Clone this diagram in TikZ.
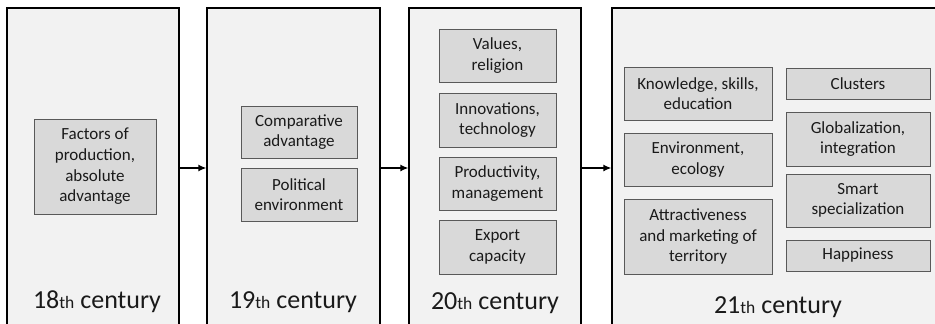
\documentclass[tikz,border=0pt]{standalone}
\usepackage{fontspec}
\setmainfont{Carlito}
\usetikzlibrary{arrows.meta}
\definecolor{panelgray}{HTML}{F2F2F2}
\definecolor{boxgray}{HTML}{D9D9D9}
\definecolor{boxedge}{HTML}{595959}
\definecolor{inkgray}{HTML}{1A1A1A}
\newcommand{\smallth}{{\fontsize{17.5}{17.5}\selectfont th}}
\begin{document}
\begin{tikzpicture}[x=1pt,y=-1pt,
  panel/.style={draw=black, line width=1.3pt, fill=panelgray, minimum height=320pt, inner sep=0pt},
  item/.style={draw=boxedge, line width=0.8pt, fill=boxgray, align=center, inner sep=0pt, text=inkgray, font=\fontsize{17}{20.6}\selectfont},
  era/.style={text=inkgray, font=\fontsize{26}{30}\selectfont},
  link/.style={-{Latex[length=8pt,width=7pt]}, line width=1.3pt}]
\clip (0,0) rectangle (935,324);

% panels
\node[panel, minimum width=172pt] (p18) at (93,168) {};
\node[panel, minimum width=173pt] (p19) at (293.5,168) {};
\node[panel, minimum width=172pt] (p20) at (495,168) {};
\node[panel, minimum width=340pt] (p21) at (782,168) {};

% 18th century
\node[item, minimum width=122pt, minimum height=95pt] (fac) at (95,166.5) {Factors of\\production,\\absolute\\advantage};

% 19th century
\node[item, minimum width=116pt, minimum height=52pt] (comp) at (299,132) {Comparative\\advantage};
\node[item, minimum width=116pt, minimum height=53pt] (pol) at (299,194.5) {Political\\environment};

% 20th century
\node[item, minimum width=117pt, minimum height=53pt] (val) at (497.5,55.5) {Values,\\religion};
\node[item, minimum width=117pt, minimum height=54pt] (inn) at (497.5,120) {Innovations,\\technology};
\node[item, minimum width=117pt, minimum height=53pt] (prod) at (497.5,183.5) {Productivity,\\management};
\node[item, minimum width=117pt, minimum height=54pt] (exp) at (497.5,247) {Export\\capacity};

% 21th century, left column
\node[item, minimum width=148pt, minimum height=53pt] (know) at (698,93.5) {Knowledge, skills,\\education};
\node[item, minimum width=148pt, minimum height=53pt] (env) at (698,159.5) {Environment,\\ecology};
\node[item, minimum width=148pt, minimum height=75pt] (attr) at (698,236.5) {Attractiveness\\and marketing of\\territory};

% 21th century, right column
\node[item, minimum width=144pt, minimum height=31pt] (clu) at (858,83.5) {Clusters};
\node[item, minimum width=144pt, minimum height=54pt] (glob) at (858,139) {Globalization,\\integration};
\node[item, minimum width=144pt, minimum height=53pt] (smart) at (858,200.5) {Smart\\specialization};
\node[item, minimum width=144pt, minimum height=31pt] (hap) at (858,255.5) {Happiness};

% labels
\node[era] (l18) at (97,302) {18\smallth{} century};
\node[era] (l19) at (293,302) {19\smallth{} century};
\node[era] (l20) at (495,303) {20\smallth{} century};
\node[era] (l21) at (778,307) {21\smallth{} century};

%connections
\draw[link] (p18) -- (p19);
\draw[link] (p19) -- (p20);
\draw[link] (p20) -- (p21);
\end{tikzpicture}
\end{document}
